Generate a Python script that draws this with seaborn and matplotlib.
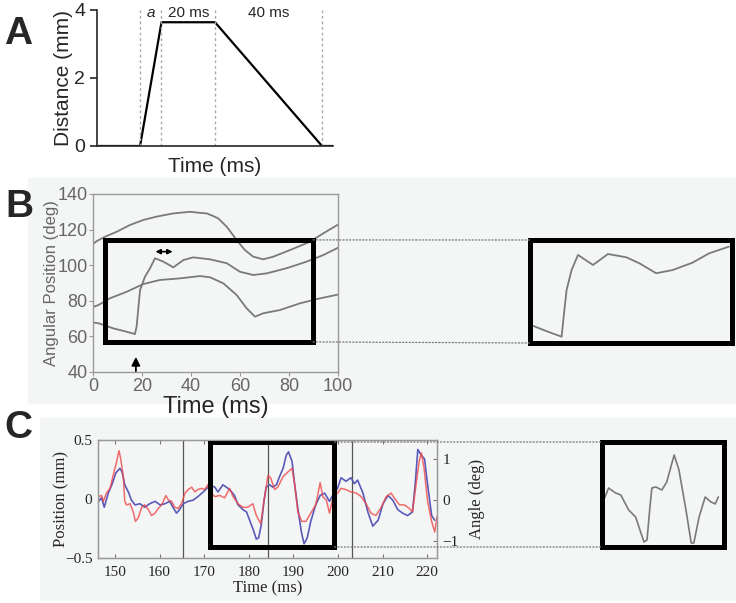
import seaborn as sns
import matplotlib.pyplot as plt
from matplotlib.patches import Rectangle, ConnectionPatch

sns.set_style("ticks")
plt.rcParams['font.family'] = ['Liberation Sans', 'DejaVu Sans']

# ---- panel A: stimulus profile ----
a_time = [-16, 0, 8, 28, 68, 72]
a_dist = [0, 0, 3.64, 3.64, 0, 0]
a_marks = [0, 8, 28, 68]
a_labels = ['a', '20 ms', '40 ms']

# ---- panel B: angular position traces ----
b_top_t = [0, 1.5, 4.9, 9.7, 15.1, 20.5, 26, 32.8, 39.6, 43.7, 46.4, 49.1, 51.1, 54.6, 58.6,
           62, 65.4, 69.5, 73.6, 80.4, 88.6, 94, 100]
b_top = [112, 113.5, 116, 118.8, 122.6, 125.4, 127.3, 129.1, 130, 129.4, 129.1, 127.6, 126.3,
         121.6, 114.2, 108.5, 104.8, 103.3, 104.8, 108.5, 113.2, 117.9, 122.8]
b_mid_t = [0, 2.2, 8.3, 13.8, 17.1, 17.8, 19.2, 21.2, 23.3, 25.3, 28.7, 32.8, 36.9, 40.9,
           47.8, 54.6, 60, 65.4, 70.9, 79, 87.2, 94, 100]
b_mid = [67.8, 67.4, 64.5, 62.6, 61.3, 65.5, 86, 93.5, 98.3, 103.9, 102, 98.8, 102.9, 104.4,
         103.3, 101.1, 96.3, 94.5, 95.4, 98.3, 102, 105.7, 109.8]
b_low_t = [0, 2.2, 6.9, 13.8, 20.5, 27.3, 35.5, 43.7, 47.8, 53.2, 58.6, 62.7, 66.1, 69.5,
           76.3, 84.5, 92.7, 100]
b_low = [76.5, 77.6, 81.4, 85.1, 89.4, 91.7, 92.6, 93.9, 93.2, 89.8, 83.3, 75.8, 71.1, 73,
         74.8, 78.6, 81.4, 83.5]
b_zoom_t = [6.4, 12.5, 18.3, 19.2, 20.4, 22.5, 25.2, 31.5, 37.8, 45.5, 51.1, 58.1, 65.0,
            73.4, 80.4, 88.7]
b_zoom = [66.4, 63.2, 60.4, 72, 86.4, 97.5, 105.9, 100.3, 106.4, 104.6, 101.2, 95.7, 97.5,
          101.6, 106.8, 110.5]

# ---- panel C: position (red) and angle (blue) ----
c_blue_t = [146.3, 147.0, 147.6, 148.5, 149.3, 150.2, 151.1, 151.6, 152.2, 153.0, 153.7,
            154.5, 155.6, 156.7, 157.8, 159.0, 160.1, 161.2, 162.3, 163.0, 163.8, 164.5,
            165.3, 166.4, 167.5, 168.6, 169.8, 170.9, 171.3, 172.4, 173.1, 174.2, 175.0,
            175.7, 176.8, 177.6, 178.7, 179.5, 180.2, 181.0, 181.7, 182.2, 182.8, 183.4,
            183.9, 184.7, 185.4, 186.2, 186.9, 187.7, 188.4, 188.9, 189.7, 190.3, 191.0,
            191.8, 192.4, 193.1, 193.9, 195.0, 196.0, 197.0, 198.1, 198.8, 199.9, 200.7,
            201.8, 202.9, 203.7, 204.4, 205.6, 206.7, 207.8, 209.0, 210.1, 211.2, 212.3,
            213.4, 214.5, 215.6, 216.7, 217.3, 217.9, 218.7, 219.4, 220.1, 221.0, 221.7]
c_blue = [-0.02, 0.01, -0.07, 0.05, 0.12, 0.22, 0.26, 0.23, 0.12, 0.06, -0.01,
          -0.05, -0.04, -0.07, -0.04, -0.02, -0.05, -0.04, -0.02, -0.07, -0.12, -0.09,
          -0.04, -0.02, -0.01, 0.02, 0.06, 0.10, 0.12, 0.10, 0.06, 0.12, 0.10,
          0.08, 0.03, -0.05, -0.09, -0.11, -0.18, -0.26, -0.34, -0.33, -0.22, -0.02,
          0.10, 0.12, 0.10, 0.12, 0.19, 0.26, 0.37, 0.40, 0.32, 0.12, -0.08,
          -0.28, -0.38, -0.33, -0.19, -0.05, 0.03, 0.05, -0.02, 0.03, 0.09, 0.18,
          0.15, 0.18, 0.13, 0.16, 0.05, -0.11, -0.23, -0.18, -0.04, 0.03, -0.01,
          -0.09, -0.12, -0.14, -0.11, 0.12, 0.42, 0.37, 0.34, 0.12, -0.14, -0.18]
c_red_t = [146.3, 147.0, 147.4, 148.1, 148.9, 149.6, 150.4, 150.9, 151.3, 151.9, 152.2,
           152.6, 153.4, 154.1, 154.6, 155.2, 156.0, 156.7, 157.5, 158.2, 159.0, 159.7,
           160.5, 161.4, 162.0, 162.7, 163.4, 164.2, 164.9, 165.7, 166.4, 167.2, 167.9,
           168.6, 169.4, 170.1, 170.8, 171.6, 172.4, 173.5, 174.6, 175.7, 176.5, 177.6,
           178.7, 179.8, 180.9, 181.7, 182.7, 183.4, 184.3, 184.9, 185.8, 186.5, 187.7,
           188.8, 189.7, 190.3, 191.0, 191.9, 192.8, 193.9, 195.0, 195.6, 196.0, 196.6,
           197.4, 198.1, 198.8, 199.9, 200.7, 201.8, 202.9, 204.1, 205.2, 206.3, 207.4,
           208.5, 209.7, 210.8, 211.9, 212.6, 213.8, 214.9, 216.0, 216.7, 217.5, 218.2,
           218.7, 219.3, 220.1, 221.0, 221.7, 222.2]
c_red = [0.02, 0.03, -0.02, 0.05, 0.09, 0.20, 0.32, 0.41, 0.34, 0.18, -0.02,
         -0.05, -0.04, -0.11, -0.19, -0.16, -0.07, -0.05, -0.09, -0.14, -0.12, -0.08,
         -0.05, 0.03, -0.01, -0.02, -0.07, -0.08, -0.04, 0.05, 0.08, 0.10, 0.06,
         0.08, 0.09, 0.08, 0.12, 0.05, 0.02, 0.03, 0.01, 0.09, 0.02, -0.04,
         -0.07, -0.07, -0.04, -0.14, -0.21, -0.02, 0.20, 0.18, 0.08, 0.10, 0.19,
         0.23, 0.26, 0.12, -0.11, -0.19, -0.19, -0.12, -0.05, 0.06, 0.14, 0.02,
         -0.01, -0.12, 0.00, 0.05, 0.09, 0.08, 0.06, 0.05, 0.02, -0.04, -0.12,
         -0.14, -0.07, 0.02, 0.05, 0.01, -0.05, -0.05, -0.08, -0.11, 0.12, 0.32,
         0.39, 0.26, -0.02, -0.19, -0.28, -0.15]
c_vlines = [165.2, 184.2, 203.2]
c_zoom_t = [171.9, 172.8, 174.4, 175.6, 177.4, 179.0, 180.2, 180.9, 181.6, 182.2, 182.7,
            183.6, 185.0, 186.1, 187.8, 188.9, 190.5, 191.7, 192.3, 193.5, 194.9, 196.2,
            197.2, 197.9]
c_zoom = [0.008, 0.093, 0.051, 0.034, -0.093, -0.153, -0.288, -0.364, -0.347, -0.093, 0.093,
          0.102, 0.076, 0.144, 0.373, 0.246, -0.093, -0.373, -0.373, -0.153, 0.017, -0.025,
          -0.042, 0.017]

W, H = 736, 603
fig = plt.figure(figsize=(W / 100, H / 100), dpi=100)


def px_axes(x0, y0, x1, y1):
    return fig.add_axes([x0 / W, 1 - y1 / H, (x1 - x0) / W, (y1 - y0) / H])


def px_rect(x0, y0, x1, y1):
    fig.add_artist(Rectangle((x0 / W, 1 - y1 / H), (x1 - x0) / W, (y1 - y0) / H,
                             transform=fig.transFigure, color='#f4f6f6', zorder=-5))


px_rect(28, 178, 736, 403)
px_rect(40, 418, 736, 600)

for letter, (x, y) in zip('ABC', [(18, 34), (19, 207), (18, 428)]):
    fig.text(x / W, 1 - y / H, letter, fontsize=28, fontweight='bold', ha='center', va='center')

# ---------------- A ----------------
axA = px_axes(97, 10, 333, 146)
sns.lineplot(x=a_time, y=a_dist, color='black', lw=1.6, ax=axA, estimator=None, sort=False)
for m in a_marks:
    axA.plot([m, m], [0, 4], color='#aaaaaa', ls=(0, (2, 2)), lw=1)
for i, lab in enumerate(a_labels):
    xc = (a_marks[i] + a_marks[i + 1]) / 2
    axA.text(xc, 3.9, lab, ha='center', va='center', fontsize=11,
             style='italic' if lab == 'a' else 'normal')
axA.set_xlim(-16.1, 72.1)
axA.set_ylim(0, 4)
axA.set_xticks([])
axA.set_yticks([0, 2, 4])
axA.tick_params(axis='y', labelsize=14, length=5, width=1.2)
axA.set_xlabel('Time (ms)', fontsize=15, labelpad=8)
axA.set_ylabel('Distance (mm)', fontsize=15, labelpad=1)
for s in ['top', 'right']:
    axA.spines[s].set_visible(False)
for s in ['left', 'bottom']:
    axA.spines[s].set_linewidth(1.2)
axA.patch.set_alpha(0)

# ---------------- B ----------------
trace_col = '#7a7a7a'
axB = px_axes(93, 194, 338, 372)
for tt, vv in [(b_top_t, b_top), (b_mid_t, b_mid), (b_low_t, b_low)]:
    sns.lineplot(x=tt, y=vv, color=trace_col, lw=1.3, ax=axB, estimator=None)
axB.set_xlim(0, 100)
axB.set_ylim(40, 140)
axB.set_xticks(range(0, 101, 20))
axB.set_yticks(range(40, 141, 20))
axB.tick_params(labelsize=13, labelcolor='#666666', color='#999999', length=3, pad=1)
axB.set_ylabel('Angular Position (deg)', fontsize=12, color='#666666', labelpad=-1)
axB.set_xlabel('Time (ms)', fontsize=17, labelpad=1)
for s in axB.spines.values():
    s.set_color('#999999')
    s.set_linewidth(1)
axB.patch.set_alpha(0)
axB.add_patch(Rectangle((4.9, 56.9), 84.9, 57.3, fill=False, ec='black', lw=3.6, zorder=4))
axB.annotate('', xy=(17.5, 48.5), xytext=(17.5, 40.5),
             arrowprops=dict(arrowstyle='-|>,head_length=0.5,head_width=0.25',
                             color='black', lw=1.3, shrinkA=0, shrinkB=0))
axB.annotate('', xy=(32.5, 107.6), xytext=(25.5, 107.6),
             arrowprops=dict(arrowstyle='<|-|>,head_length=0.28,head_width=0.14',
                             color='black', lw=1.2, shrinkA=0, shrinkB=0))

insB = px_axes(530, 240, 732, 343)
sns.lineplot(x=b_zoom_t, y=b_zoom, color=trace_col, lw=1.3, ax=insB, estimator=None)
insB.set_xlim(5, 90)
insB.set_ylim(56.9, 114.2)
insB.set_xticks([])
insB.set_yticks([])
insB.set_xlabel('')
insB.set_ylabel('')
insB.patch.set_alpha(0)
for s in insB.spines.values():
    s.set_color('black')
    s.set_linewidth(3.6)
for yb, yi in [(114.2, 1), (56.9, 0)]:
    fig.add_artist(ConnectionPatch(xyA=(89.8, yb), coordsA=axB.transData,
                                   xyB=(0, yi), coordsB=insB.transAxes,
                                   ls=':', color='#777777', lw=0.9))

# ---------------- C ----------------
serif = ['Liberation Serif', 'DejaVu Serif']
axC = px_axes(98, 440, 437, 558)
for v in c_vlines:
    axC.axvline(v, color='#555555', lw=0.9)
sns.lineplot(x=c_blue_t, y=c_blue, color='#5a5ab8', lw=1.2, ax=axC, estimator=None)
sns.lineplot(x=c_red_t, y=c_red, color='#f04848', lw=1.1, alpha=0.8, ax=axC, estimator=None)
axC.set_xlim(146.2, 222.2)
axC.set_ylim(-0.5, 0.5)
axC.set_xticks(range(150, 221, 10))
axC.set_yticks([-0.5, 0, 0.5])
axC.set_yticklabels(['\u22120.5', '0', '0.5'])
axC.tick_params(direction='in', top=True, length=3, color='#777777', labelsize=11, pad=4)
axC.tick_params(axis='x', pad=6)
for lab in axC.get_xticklabels() + axC.get_yticklabels():
    lab.set_family(serif)
axC.set_xlabel('Time (ms)', fontsize=12, family=serif, labelpad=1)
axC.set_ylabel('Position (mm)', fontsize=12, family=serif, labelpad=-3)
for s in axC.spines.values():
    s.set_color('#999999')
    s.set_linewidth(1)
axC.patch.set_alpha(0)
axC.add_patch(Rectangle((171.3, -0.407), 27.9, 0.89, fill=False, ec='black', lw=3.6, zorder=4))

axC2 = axC.twinx()
axC2.set_ylim(-1.41, 1.46)
axC2.set_yticks([-1, 0, 1])
axC2.set_yticklabels(['\u22121', '0', '1'])
axC2.tick_params(direction='in', length=3, color='#777777', labelsize=11, pad=4)
for lab in axC2.get_yticklabels():
    lab.set_family(serif)
axC2.set_ylabel('Angle (deg)', fontsize=12, family=serif, labelpad=7)
for s in axC2.spines.values():
    s.set_color('#999999')

insC = px_axes(602, 442, 724, 547)
sns.lineplot(x=c_zoom_t, y=c_zoom, color=trace_col, lw=1.2, ax=insC, estimator=None)
insC.set_xlim(171.3, 199.2)
insC.set_ylim(-0.407, 0.483)
insC.set_xticks([])
insC.set_yticks([])
insC.set_xlabel('')
insC.set_ylabel('')
insC.patch.set_alpha(0)
for s in insC.spines.values():
    s.set_color('black')
    s.set_linewidth(3.6)
for yb, yi in [(0.483, 1), (-0.407, 0)]:
    fig.add_artist(ConnectionPatch(xyA=(199.2, yb), coordsA=axC.transData,
                                   xyB=(0, yi), coordsB=insC.transAxes,
                                   ls=':', color='#777777', lw=0.9))

fig.savefig('out.png', dpi=100)
